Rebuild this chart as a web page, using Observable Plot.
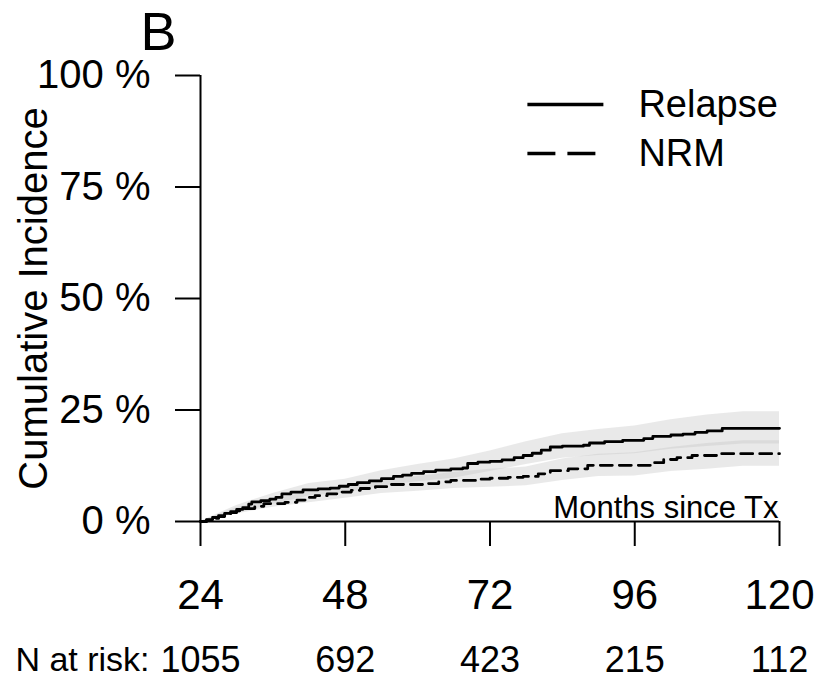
<!DOCTYPE html>
<html>
<head>
<meta charset="utf-8">
<script src="https://cdn.jsdelivr.net/npm/d3@7"></script>
<script src="https://cdn.jsdelivr.net/npm/@observablehq/plot@0.6"></script>
<style>
  html, body { margin: 0; padding: 0; background: #fff; }
  #chart svg { display: block; }
</style>
</head>
<body>
<div id="chart"></div>
<script>
// ---- Data ----
const seriesNames = ["Relapse", "NRM"];

// Relapse cumulative incidence (%), step function
const relapseMonths = [24, 25, 26, 27, 28, 29, 30, 31, 32, 32.5, 34, 35.5, 36.5, 37.5, 39, 41, 43.5, 45.5, 47, 48.5, 50, 52, 54, 56, 57.5, 59, 61, 63, 65.5, 67.5, 68.3, 70, 72, 74, 76, 77.5, 79, 80.5, 82, 84, 87.5, 88.5, 91, 94, 97.5, 99, 102, 104, 106, 108, 110.5, 120];
const relapseCI    = [0, 0.4, 0.9, 1.3, 1.8, 2.2, 2.7, 3.1, 3.9, 4.4, 4.7, 5.0, 5.4, 6.2, 6.6, 7.1, 7.3, 7.5, 7.9, 8.3, 8.7, 9.1, 9.6, 10.1, 10.4, 10.8, 11.2, 11.5, 11.8, 12.0, 13.0, 13.3, 13.5, 13.8, 14.3, 14.8, 15.3, 16.0, 16.7, 16.9, 17.1, 17.6, 17.9, 18.2, 18.6, 19.1, 19.4, 19.6, 20.0, 20.3, 20.9, 20.9];

// NRM cumulative incidence (%), step function
const nrmMonths = [24, 25, 26, 27, 28, 29, 30, 31, 33, 34.5, 38, 40, 41.5, 43, 45, 47, 49, 50.5, 53, 55.5, 61.5, 63.5, 65.5, 70, 72, 75, 77.5, 80, 82, 85, 88.2, 99.2, 100.8, 103, 105.5, 110, 120];
const nrmCI    = [0, 0.3, 0.7, 1.1, 1.5, 2.0, 2.4, 2.9, 3.4, 4.0, 4.3, 4.8, 5.4, 5.8, 6.2, 6.6, 7.0, 7.4, 7.8, 8.3, 8.5, 8.9, 9.2, 9.5, 9.7, 9.9, 10.1, 10.7, 11.4, 11.8, 12.6, 13.2, 13.9, 14.3, 14.8, 15.2, 15.2];

// Confidence bands (%)
const bandMonths = [24, 30, 36, 42, 48, 54, 60, 66, 72, 78, 84, 90, 96, 102, 108, 114, 120];
const relapseLower = [0, 1.8, 3.8, 5.7, 6.4, 7.9, 8.9, 9.7, 11.2, 12.8, 14.2, 14.8, 15.2, 16.2, 16.8, 17.4, 17.4];
const relapseUpper = [0, 3.6, 6.3, 8.5, 9.5, 11.4, 12.8, 14.0, 15.8, 17.9, 19.7, 20.6, 21.4, 22.8, 23.9, 24.6, 24.6];
const nrmLower = [0, 1.7, 3.2, 4.2, 5.2, 6.3, 6.8, 7.4, 7.7, 8.0, 9.2, 10.1, 10.2, 11.2, 11.7, 12.4, 12.4];
const nrmUpper = [0, 3.1, 5.0, 6.6, 8.0, 9.3, 10.1, 11.0, 11.7, 12.2, 14.0, 15.1, 15.4, 16.6, 17.5, 18.1, 18.1];

// Axes
const xTicks = [24, 48, 72, 96, 120];
const yTicks = [0, 25, 50, 75, 100];
const nAtRisk = [1055, 692, 423, 215, 112];

// ---- Tables ----
const relapse = relapseMonths.map((t, i) => ({t, v: relapseCI[i]}));
const nrm = nrmMonths.map((t, i) => ({t, v: nrmCI[i]}));
const relapseBand = bandMonths.map((t, i) => ({t, lo: relapseLower[i], hi: relapseUpper[i]}));
const nrmBand = bandMonths.map((t, i) => ({t, lo: nrmLower[i], hi: nrmUpper[i]}));
const riskTable = xTicks.map((t, i) => ({t, n: nAtRisk[i]}));

// legend placement (in data units of the frame)
const legendX = [78.2, 90.8];
const legendY = [93.5, 82.5];

const font = "'Liberation Sans', Arial, Helvetica, sans-serif";

const chart = Plot.plot({
  width: 819,
  height: 679,
  marginLeft: 200,
  marginRight: 40,
  marginTop: 75,
  marginBottom: 158,
  x: {domain: [24, 120]},
  y: {domain: [0, 100]},
  style: {fontFamily: font, color: "#000", background: "#fff", overflow: "visible"},
  marks: [
    // confidence bands
    Plot.areaY(relapseBand, {x: "t", y1: "lo", y2: "hi", fill: "#c4c4c4", fillOpacity: 0.38}),
    Plot.areaY(nrmBand, {x: "t", y1: "lo", y2: "hi", fill: "#c4c4c4", fillOpacity: 0.38}),
    // curves
    Plot.line(relapse, {x: "t", y: "v", curve: "step-after", stroke: "#000", strokeWidth: 2.8}),
    Plot.line(nrm, {x: "t", y: "v", curve: "step-after", stroke: "#000", strokeWidth: 2.8, strokeDasharray: "12,7"}),
    // axes lines
    Plot.ruleX([24], {y1: 0, y2: 100, stroke: "#000", strokeWidth: 2}),
    Plot.ruleY([0], {x1: 24, x2: 120, stroke: "#000", strokeWidth: 2}),
    Plot.axisY({ticks: yTicks, tickFormat: d => d + " %", tickSize: 25, tickPadding: 25, fontSize: 40, strokeWidth: 2, label: null}),
    Plot.axisX({ticks: xTicks, tickFormat: d => String(d), tickSize: 25, tickPadding: 33, fontSize: 42, strokeWidth: 2, label: null}),
    // axis titles
    Plot.text(["Cumulative Incidence"], {frameAnchor: "left", text: d => d, textAnchor: "middle", rotate: -90, dx: -166, fontSize: 40, lineAnchor: "middle"}),
    Plot.text(["Months since Tx"], {frameAnchor: "bottom-right", text: d => d, textAnchor: "end", dx: -1, dy: -13, fontSize: 31, lineAnchor: "middle"}),
    // panel letter
    Plot.text(["B"], {frameAnchor: "top-left", text: d => d, textAnchor: "start", dx: -60, dy: -43, fontSize: 54, lineAnchor: "middle"}),
    // N at risk row
    Plot.text(["N at risk:"], {frameAnchor: "bottom-left", text: d => d, textAnchor: "end", dx: -51, dy: 139, fontSize: 34, lineAnchor: "middle"}),
    Plot.text(riskTable, {x: "t", frameAnchor: "bottom", text: d => String(d.n), dy: 139, fontSize: 36, lineAnchor: "middle"}),
    // legend
    Plot.link([seriesNames[0]], {x1: () => legendX[0], x2: () => legendX[1], y1: () => legendY[0], y2: () => legendY[0], stroke: "#000", strokeWidth: 3.5}),
    Plot.link([seriesNames[1]], {x1: () => legendX[0], x2: () => legendX[1], y1: () => legendY[1], y2: () => legendY[1], stroke: "#000", strokeWidth: 3.5, strokeDasharray: "28,12"}),
    Plot.text(seriesNames, {x: () => legendX[1], y: (d, i) => legendY[i], text: d => d, textAnchor: "start", dx: 35, fontSize: 38, lineAnchor: "middle"})
  ]
});

document.getElementById("chart").appendChild(chart);
</script>
</body>
</html>
